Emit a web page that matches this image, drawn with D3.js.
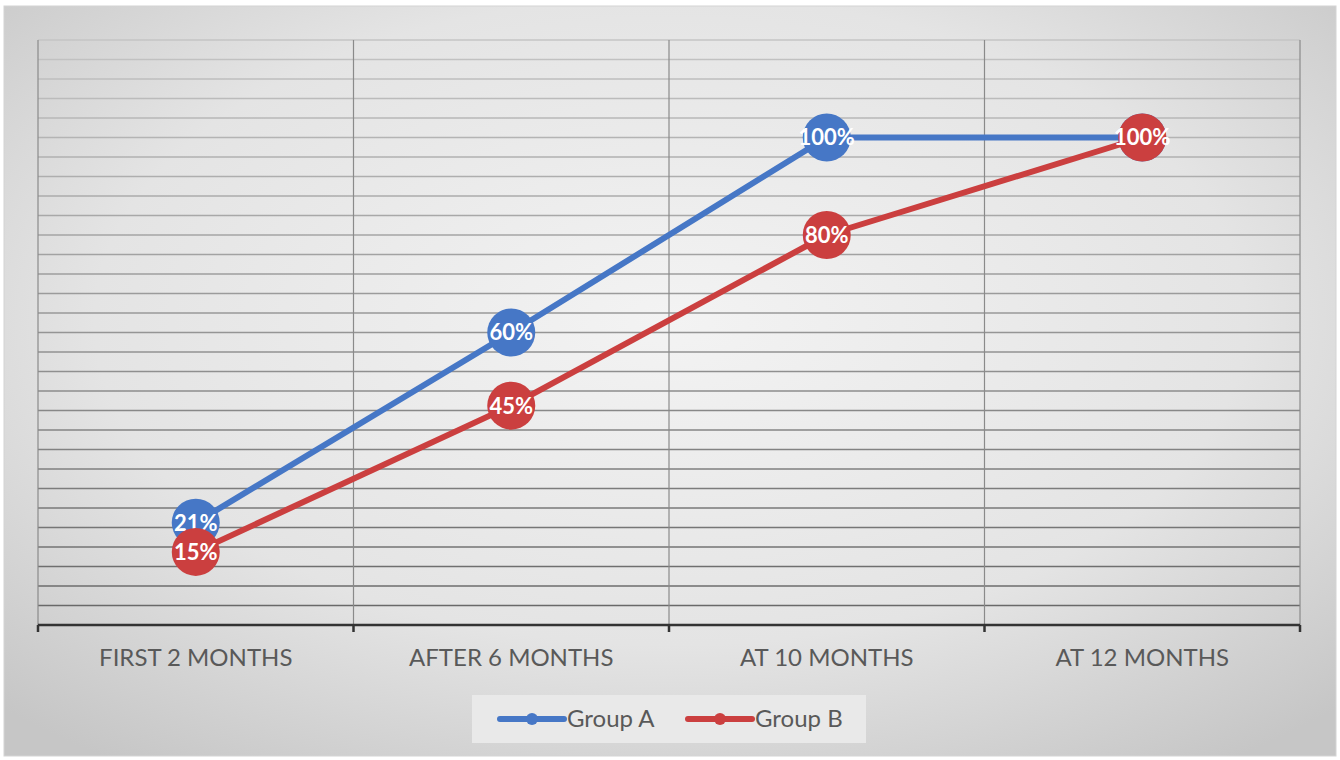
<!DOCTYPE html>
<html>
<head>
<meta charset="utf-8">
<script src="https://cdn.jsdelivr.net/npm/d3@7"></script>
<style>
  html, body { margin: 0; padding: 0; background: #fff; }
  svg { display: block; }
</style>
</head>
<body>
<svg id="chart" width="1340" height="760"></svg>
<script>
  // chart data
  var categories = ["FIRST 2 MONTHS", "AFTER 6 MONTHS", "AT 10 MONTHS", "AT 12 MONTHS"];
  var seriesNames = ["Group A", "Group B"];
  var groupA = [21, 60, 100, 100];
  var groupB = [15, 45, 80, 100];
  var yMax = 120;
  var yStep = 4;

  var colors = { "Group A": "#4677c6", "Group B": "#cb3f3f" };

  var svg = d3.select("#chart");
  var plot = { left: 38, right: 1300, top: 40, bottom: 625 };

  // background gradient
  var defs = svg.append("defs");
  var grad = defs.append("radialGradient")
    .attr("id", "bgGrad")
    .attr("cx", "50%").attr("cy", "42%").attr("r", "72%");
  grad.append("stop").attr("offset", "0%").attr("stop-color", "#f3f3f3");
  grad.append("stop").attr("offset", "60%").attr("stop-color", "#e4e4e4");
  grad.append("stop").attr("offset", "100%").attr("stop-color", "#c6c6c6");

  svg.append("rect")
    .attr("x", 4).attr("y", 6)
    .attr("width", 1332).attr("height", 750)
    .attr("fill", "url(#bgGrad)")
    .attr("stroke", "#d4d4d4")
    .attr("stroke-width", 1);

  var x = d3.scaleBand().domain(categories).range([plot.left, plot.right]);
  var y = d3.scaleLinear().domain([0, yMax]).range([plot.bottom, plot.top]);

  // horizontal gridlines, darker toward the bottom like the source
  var gridShade = d3.scaleLinear().domain([plot.top, plot.bottom]).range(["#c4c4c4", "#666"]);
  var gridVals = d3.range(yStep, yMax + 0.001, yStep);
  svg.append("g").attr("class", "hgrid")
    .selectAll("line")
    .data(gridVals)
    .enter().append("line")
    .attr("x1", plot.left).attr("x2", plot.right)
    .attr("y1", function (d) { return y(d); })
    .attr("y2", function (d) { return y(d); })
    .attr("stroke", function (d) { return gridShade(y(d)); })
    .attr("stroke-width", 1.5);

  // vertical gridlines at category boundaries
  var bounds = categories.map(function (c) { return x(c); }).concat([plot.right]);
  svg.append("g").attr("class", "vgrid")
    .selectAll("line")
    .data(bounds)
    .enter().append("line")
    .attr("x1", function (d) { return d; })
    .attr("x2", function (d) { return d; })
    .attr("y1", plot.top).attr("y2", plot.bottom)
    .attr("stroke", "#8a8a8a")
    .attr("stroke-width", 1.2);

  // x axis
  var xAxis = svg.append("g")
    .attr("transform", "translate(0," + plot.bottom + ")")
    .call(d3.axisBottom(x).tickSize(0).tickPadding(24));
  xAxis.select(".domain").remove();
  xAxis.append("line")
    .attr("x1", plot.left).attr("x2", plot.right)
    .attr("y1", 0).attr("y2", 0)
    .attr("stroke", "#333").attr("stroke-width", 2.5);
  xAxis.selectAll(".bnd")
    .data(bounds)
    .enter().append("line")
    .attr("class", "bnd")
    .attr("x1", function (d) { return d; })
    .attr("x2", function (d) { return d; })
    .attr("y1", 0).attr("y2", 7)
    .attr("stroke", "#333").attr("stroke-width", 2.5);
  xAxis.selectAll(".tick text")
    .style("font-family", "Lato, 'Open Sans', sans-serif")
    .style("font-size", "24px")
    .attr("fill", "#595959");

  // series
  var series = [
    { name: seriesNames[0], values: groupA },
    { name: seriesNames[1], values: groupB }
  ];

  var line = d3.line()
    .x(function (d, i) { return x(categories[i]) + x.bandwidth() / 2; })
    .y(function (d) { return y(d); });

  var sG = svg.selectAll(".series")
    .data(series)
    .enter().append("g")
    .attr("class", "series");

  sG.append("path")
    .attr("d", function (s) { return line(s.values); })
    .attr("fill", "none")
    .attr("stroke", function (s) { return colors[s.name]; })
    .attr("stroke-width", 6)
    .attr("stroke-linejoin", "round");

  sG.each(function (s) {
    var g = d3.select(this);
    var pts = g.selectAll(".pt")
      .data(s.values)
      .enter().append("g")
      .attr("class", "pt")
      .attr("transform", function (d, i) {
        return "translate(" + (x(categories[i]) + x.bandwidth() / 2) + "," + y(d) + ")";
      });
    pts.append("circle")
      .attr("r", 24)
      .attr("fill", colors[s.name]);
    pts.append("text")
      .attr("text-anchor", "middle")
      .attr("dy", "0.36em")
      .style("font-family", "Lato, 'Open Sans', sans-serif")
      .style("font-size", "22px")
      .style("font-weight", "bold")
      .attr("fill", "#fff")
      .text(function (d) { return d + "%"; });
  });

  // legend
  var legend = svg.append("g").attr("class", "legend");
  legend.append("rect")
    .attr("x", 472).attr("y", 695)
    .attr("width", 394).attr("height", 48)
    .attr("fill", "#e9e9e9");
  var legX = [500, 688];
  var li = legend.selectAll(".li")
    .data(seriesNames)
    .enter().append("g")
    .attr("class", "li")
    .attr("transform", function (d, i) { return "translate(" + legX[i] + ",719)"; });
  li.append("line")
    .attr("x1", 0).attr("x2", 64)
    .attr("stroke", function (d) { return colors[d]; })
    .attr("stroke-width", 6)
    .attr("stroke-linecap", "round");
  li.append("circle")
    .attr("cx", 32).attr("r", 6)
    .attr("fill", function (d) { return colors[d]; });
  li.append("text")
    .attr("x", 67).attr("dy", "0.35em")
    .style("font-family", "Lato, 'Open Sans', sans-serif")
    .style("font-size", "24px")
    .attr("fill", "#595959")
    .text(function (d) { return d; });
</script>
</body>
</html>
